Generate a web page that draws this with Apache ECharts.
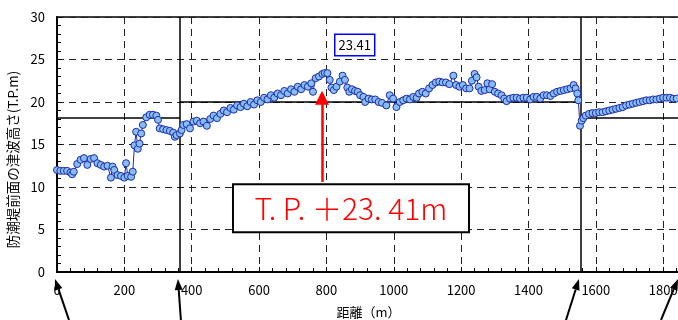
<!DOCTYPE html>
<html><head><meta charset="utf-8">
<script src="https://cdn.jsdelivr.net/npm/echarts@6/dist/echarts.min.js"></script>
<style>html,body{margin:0;padding:0;background:#fff}#c{width:678px;height:320px}</style>
</head><body><div id="c"></div>
<script>
// ---- data ----
const distance = [0,10,20,30,40,45,50,60,70,80,90,100,110,120,130,140,150,160,165,170,180,190,200,205,210,220,225,230,235,240,245,250,255,265,275,285,295,300,305,315,325,335,345,350,355,365,370,375,385,395,405,415,425,435,445,455,465,475,485,495,505,515,525,535,545,555,565,575,585,595,605,615,625,635,645,655,665,675,685,695,705,715,725,735,745,755,760,768,778,788,795,803,810,815,822,830,840,848,855,862,868,876,885,893,900,910,915,925,935,945,955,965,978,988,998,1008,1018,1028,1038,1048,1058,1068,1075,1085,1095,1105,1115,1125,1135,1145,1155,1165,1177,1185,1195,1205,1215,1225,1232,1240,1246,1252,1260,1270,1278,1285,1292,1300,1310,1320,1328,1335,1345,1355,1365,1375,1385,1395,1405,1415,1425,1435,1445,1455,1465,1475,1485,1495,1505,1515,1525,1534,1540,1545,1548,1553,1558,1563,1570,1580,1590,1600,1610,1620,1630,1640,1650,1660,1670,1680,1690,1700,1710,1720,1730,1740,1750,1760,1770,1780,1790,1800,1810,1820,1830,1840];
const waveHeight = [12.0,11.9,11.9,11.9,11.7,11.5,11.8,12.7,13.2,13.4,12.6,13.3,13.4,12.8,12.6,12.4,12.5,11.1,12.4,12.0,11.4,11.3,11.1,12.8,11.3,11.2,11.8,14.9,16.5,14.5,15.1,16.3,17.3,18.2,18.5,18.5,18.4,17.9,16.9,16.8,16.7,16.6,16.4,15.9,16.1,16.3,16.7,17.3,17.4,16.9,17.7,17.8,17.5,17.7,17.2,18.0,18.4,18.1,18.6,19.0,18.8,19.3,19.1,19.6,19.4,19.8,19.5,20.0,19.7,20.2,20.0,20.5,20.3,20.8,20.5,21.0,20.8,21.3,21.0,21.5,21.2,21.8,21.5,22.0,21.8,22.2,21.2,22.8,23.0,23.3,23.41,23.4,22.6,21.7,21.4,21.8,22.4,23.1,22.6,21.7,21.2,21.5,21.3,21.2,20.8,20.6,20.0,20.4,20.3,20.3,20.0,19.9,19.6,20.8,20.4,19.4,20.0,20.2,20.4,20.3,20.6,20.5,21.0,21.2,21.0,21.6,22.0,22.3,22.4,22.3,22.3,22.1,23.1,22.0,21.8,22.0,21.6,21.6,22.5,23.3,22.9,21.8,21.3,21.4,22.2,21.5,22.1,21.2,21.0,20.8,20.4,20.1,20.4,20.5,20.5,20.4,20.5,20.5,20.3,20.6,20.6,20.4,20.8,20.8,20.7,21.0,21.2,21.3,21.4,21.5,21.6,22.0,21.6,21.0,20.2,17.2,17.8,18.1,18.4,18.6,18.7,18.7,18.8,18.8,18.9,19.0,19.1,19.2,19.3,19.4,19.6,19.7,19.8,19.9,20.0,20.1,20.2,20.2,20.3,20.3,20.4,20.5,20.5,20.5,20.4,20.4];
const sectionBounds = [0, 365, 1556, 1850];
const designHeights = [18.1, 20.0, 18.1];
const peakX = 795, peakY = 23.41;
const arrowX = 787, arrowFrom = 10.6, arrowTo = 20.5;
const boxX = 873, boxY = 7.5;
const peakLabel = '23.41';
const boxLabel = 'T. P. ＋23. 41m';
const xName = '距離（m）';
const yName = '防潮堤前面の津波高さ(T.P.m)';
const bottomArrowTargets = [0, 365, 1556, 1850];
const bottomArrowTailDx = [14, 3, -13, -17];

const FONT = '"Noto Sans CJK JP", "Noto Sans", sans-serif';
const chart = echarts.init(document.getElementById('c'), null, {renderer: 'canvas'});

const designLines = designHeights.map((h, i) => [
  {coord: [sectionBounds[i], h]}, {coord: [sectionBounds[i + 1], h]}
]);
const verticals = sectionBounds.slice(1, -1).map(x => [
  {coord: [x, 0]}, {coord: [x, 30]}
]);

const dashed = {show: true, lineStyle: {color: '#222', type: [7, 5], width: 1}};
chart.setOption({
  animation: false,
  backgroundColor: '#fff',
  grid: {left: 57, top: 17, width: 623, height: 255, show: true, borderColor: '#000', borderWidth: 1.5, outerBoundsMode: 'none', containLabel: false},
  xAxis: {
    type: 'value', min: 0, max: 1850, interval: 200,
    name: xName, nameLocation: 'middle', nameGap: 34,
    nameTextStyle: {fontFamily: FONT, fontSize: 13, color: '#000'},
    axisLine: {show: true, onZero: false, lineStyle: {color: '#000', width: 2}},
    axisTick: {show: true, inside: true, length: 5, lineStyle: {color: '#000'}},
    minorTick: {show: true, splitNumber: 5, length: 4, lineStyle: {color: '#000'}},
    axisLabel: {fontFamily: FONT, fontSize: 13, color: '#000', margin: 12, showMaxLabel: false,
      formatter: v => String(v)},
    splitLine: dashed
  },
  yAxis: {
    type: 'value', min: 0, max: 30, interval: 5,
    name: yName, nameLocation: 'middle', nameGap: 33, nameRotate: 90,
    nameTextStyle: {fontFamily: FONT, fontSize: 13.5, color: '#000', padding: [0, 30, 0, 0]},
    axisLine: {show: true, lineStyle: {color: '#000', width: 2}},
    axisTick: {show: true, inside: true, length: 5, lineStyle: {color: '#000'}},
    minorTick: {show: true, splitNumber: 5, length: 4, lineStyle: {color: '#000'}},
    axisLabel: {fontFamily: FONT, fontSize: 13, color: '#000', margin: 12},
    splitLine: dashed
  },
  series: [
    {
      type: 'line', silent: true, z: 3,
      data: [],
      markLine: {
        silent: true, symbol: 'none', label: {show: false},
        lineStyle: {color: '#000', width: 1.5, type: 'solid'},
        data: designLines.concat(verticals)
      }
    },
    {
      type: 'line', silent: true, z: 5,
      data: distance.map((d, i) => [d, waveHeight[i]]),
      symbol: 'circle', symbolSize: 7, showAllSymbol: true,
      lineStyle: {color: '#1f2ca8', width: 1},
      itemStyle: {color: '#86bdf5', borderColor: '#1f2ca8', borderWidth: 1},
      markLine: {
        silent: true, symbol: ['none', 'triangle'], symbolSize: [14, 14],
        label: {show: false},
        lineStyle: {color: '#ff0000', width: 2.5, type: 'solid'},
        data: [[{coord: [arrowX, arrowFrom]}, {coord: [arrowX, arrowTo]}]]
      },
      markPoint: {
        silent: true, symbol: 'rect', symbolSize: 0,
        data: [
          {coord: [peakX, peakY], label: {show: true, formatter: peakLabel, offset: [30, -28],
            fontFamily: FONT, fontSize: 13, color: '#000', backgroundColor: '#fff',
            borderColor: '#0000ff', borderWidth: 1.5, padding: [4, 3, 3, 3]}},
          {coord: [boxX, boxY], label: {show: true, formatter: boxLabel,
            fontFamily: FONT, fontSize: 30, fontWeight: 300, color: '#ff0000', backgroundColor: '#fff',
            borderColor: '#000', borderWidth: 2, width: 234, height: 46, align: 'center', verticalAlign: 'middle', lineHeight: 46}}
        ]
      }
    }
  ]
});

// black arrows below the x axis pointing at section boundaries
const graphics = [];
bottomArrowTargets.forEach((xv, i) => {
  const p = chart.convertToPixel({gridIndex: 0}, [xv, 0]);
  const tip = [p[0] - 2, p[1] + 7];
  const tail = [tip[0] + bottomArrowTailDx[i], 320];
  const dx = tip[0] - tail[0], dy = tip[1] - tail[1];
  const L = Math.hypot(dx, dy), ux = dx / L, uy = dy / L;
  const bx = tip[0] - ux * 11, by = tip[1] - uy * 11;
  graphics.push({type: 'line', shape: {x1: tail[0], y1: tail[1], x2: bx, y2: by}, style: {stroke: '#000', lineWidth: 2}, silent: true, z: 10});
  graphics.push({type: 'polygon', shape: {points: [tip, [bx - uy * 4, by + ux * 4], [bx + uy * 4, by - ux * 4]]}, style: {fill: '#000'}, silent: true, z: 10});
});
chart.setOption({graphic: graphics});
</script>
</body></html>
